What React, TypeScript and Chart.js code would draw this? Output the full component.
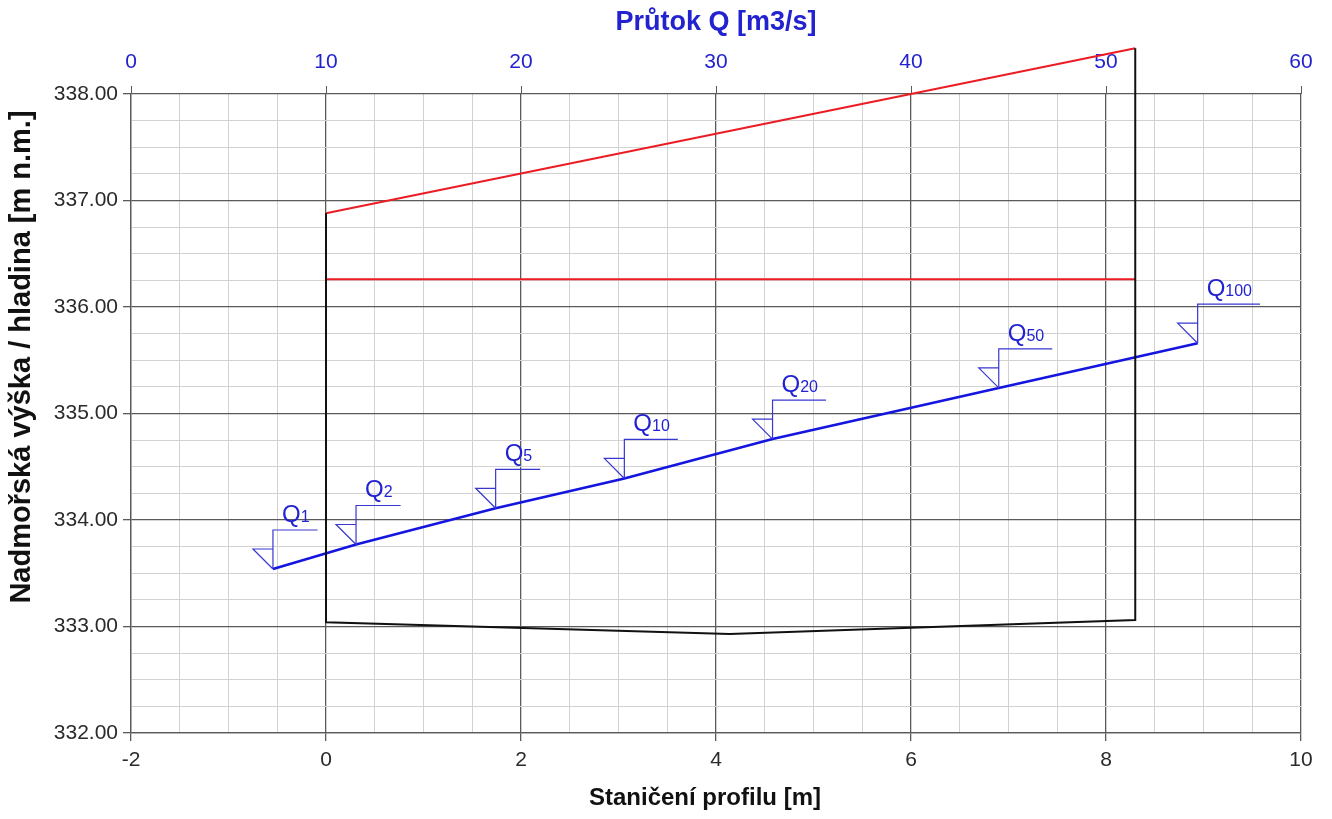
import React, { useEffect, useRef } from 'react';
import { Chart, registerables } from 'chart.js';

Chart.register(...registerables);

// ---- data ----
const qNames = ['1', '2', '5', '10', '20', '50', '100'];
const qFlows = [7.28, 11.54, 18.7, 25.3, 32.9, 44.5, 54.7];
const qLevels = [333.54, 333.77, 334.11, 334.39, 334.76, 335.24, 335.66];

const profileX = [0, 0, 4.14, 8.3, 8.3];
const profileY = [336.88, 333.04, 332.93, 333.06, 338.43];

const bankLineX = [0, 8.3];
const bankLineY = [336.88, 338.43];

const levelLineX = [0, 8.3];
const levelLineY = [336.26, 336.26];

const stationRange = [-2, 10];
const levelRange = [332, 338];
const flowRange = [0, 60];

const titleY = 'Nadmořská výška / hladina [m n.m.]';
const titleX = 'Staničení profilu [m]';
const titleTop = 'Průtok Q [m3/s]';

// ---- styles ----
const FONT = '"Liberation Sans", Arial, Helvetica, sans-serif';
const MAJOR = '#5a5a5a';
const MINOR = '#d2d2d2';
const BLUE = '#1515e0';
const MARK = '#3838d0';
const LABEL_BLUE = '#2222d0';
const RED = '#ec1c24';
const BLACK = '#111111';
const TICK_TXT = '#2a2a2a';

const near = (a: number, b: number) => Math.abs(a - b) < 1e-6;
const isMajorX = (v: number) => near(v / 2, Math.round(v / 2));
const isMajorY = (v: number) => near(v, Math.round(v));

const pts = (xs: number[], ys: number[]) => xs.map((x, i) => ({ x, y: ys[i] }));

const overlayPlugin = {
  id: 'overlay',
  afterDatasetsDraw(chart: any) {
    const ctx = chart.ctx as CanvasRenderingContext2D;
    const x2 = chart.scales.x2;
    const y = chart.scales.y;
    ctx.save();
    qFlows.forEach((q, i) => {
      const px = x2.getPixelForValue(q);
      const py = y.getPixelForValue(qLevels[i]);
      ctx.font = `24px ${FONT}`;
      const wQ = ctx.measureText('Q').width;
      ctx.font = `16px ${FONT}`;
      const wS = ctx.measureText(qNames[i]).width;
      const len = 9 + wQ + wS + 8;
      ctx.strokeStyle = MARK;
      ctx.lineWidth = 1.2;
      ctx.beginPath();
      ctx.moveTo(px, py);
      ctx.lineTo(px, py - 39);
      ctx.lineTo(px + len, py - 39);
      ctx.moveTo(px, py - 20);
      ctx.lineTo(px - 20, py - 20);
      ctx.lineTo(px, py);
      ctx.stroke();
      ctx.fillStyle = LABEL_BLUE;
      ctx.textAlign = 'left';
      ctx.textBaseline = 'alphabetic';
      ctx.font = `24px ${FONT}`;
      ctx.fillText('Q', px + 9, py - 47);
      ctx.font = `16px ${FONT}`;
      ctx.fillText(qNames[i], px + 9 + wQ, py - 47);
    });
    ctx.restore();
  },
  afterDraw(chart: any) {
    const ctx = chart.ctx as CanvasRenderingContext2D;
    const area = chart.chartArea;
    ctx.save();
    ctx.textAlign = 'center';
    ctx.textBaseline = 'middle';
    // top title
    ctx.fillStyle = LABEL_BLUE;
    ctx.font = `bold 27px ${FONT}`;
    ctx.fillText(titleTop, (area.left + area.right) / 2, 23);
    // bottom title
    ctx.fillStyle = BLACK;
    ctx.font = `bold 24px ${FONT}`;
    ctx.fillText(titleX, 705, 798);
    // left title
    ctx.font = `bold 29px ${FONT}`;
    ctx.translate(22, 357);
    ctx.rotate(-Math.PI / 2);
    ctx.fillText(titleY, 0, 0);
    ctx.restore();
  },
};

export default function App() {
  const ref = useRef<HTMLCanvasElement | null>(null);

  useEffect(() => {
    if (!ref.current) return;
    const chart = new Chart(ref.current, {
      type: 'line',
      data: {
        datasets: [
          {
            label: 'profil',
            data: pts(profileX, profileY),
            borderColor: BLACK,
            borderWidth: 2,
            pointRadius: 0,
            xAxisID: 'x',
            yAxisID: 'y',
            clip: false as any,
          },
          {
            label: 'bank',
            data: pts(bankLineX, bankLineY),
            borderColor: RED,
            borderWidth: 2,
            pointRadius: 0,
            xAxisID: 'x',
            yAxisID: 'y',
            clip: false as any,
          },
          {
            label: 'level',
            data: pts(levelLineX, levelLineY),
            borderColor: RED,
            borderWidth: 2,
            pointRadius: 0,
            xAxisID: 'x',
            yAxisID: 'y',
            clip: false as any,
          },
          {
            label: 'Q-H',
            data: pts(qFlows, qLevels),
            borderColor: BLUE,
            borderWidth: 2.6,
            pointRadius: 0,
            xAxisID: 'x2',
            yAxisID: 'y',
            clip: false as any,
          },
        ],
      },
      options: {
        animation: false,
        responsive: true,
        maintainAspectRatio: false,
        layout: { padding: { left: 0, right: 31, top: 0, bottom: 0 } },
        plugins: {
          legend: { display: false },
          tooltip: { enabled: false },
          title: { display: false },
        },
        elements: { line: { tension: 0 } },
        scales: {
          x: {
            type: 'linear',
            position: 'bottom',
            min: stationRange[0],
            max: stationRange[1],
            afterFit: (s: any) => {
              s.height = 86;
            },
            ticks: {
              stepSize: 0.5,
              autoSkip: false,
              maxRotation: 0,
              padding: 7,
              color: TICK_TXT,
              font: { size: 21, family: FONT },
              callback: (v: any) => (isMajorX(Number(v)) ? String(Math.round(Number(v))) : ''),
            },
            grid: {
              color: (c: any) => (isMajorX(c.tick.value) ? MAJOR : MINOR),
              lineWidth: (c: any) => (isMajorX(c.tick.value) ? 1.3 : 1),
              tickColor: (c: any) => (isMajorX(c.tick.value) ? MAJOR : 'rgba(0,0,0,0)'),
              tickLength: 8,
            },
            border: { color: MAJOR, width: 1.3 },
          },
          x2: {
            type: 'linear',
            position: 'top',
            min: flowRange[0],
            max: flowRange[1],
            afterFit: (s: any) => {
              s.height = 94;
            },
            ticks: {
              stepSize: 10,
              autoSkip: false,
              maxRotation: 0,
              padding: 11,
              color: LABEL_BLUE,
              font: { size: 21, family: FONT },
            },
            grid: {
              drawOnChartArea: false,
              color: MAJOR,
              tickColor: MAJOR,
              tickLength: 8,
            },
            border: { display: false },
          },
          y: {
            type: 'linear',
            position: 'left',
            min: levelRange[0],
            max: levelRange[1],
            afterFit: (s: any) => {
              s.width = 131;
            },
            ticks: {
              stepSize: 0.25,
              autoSkip: false,
              padding: 5,
              color: TICK_TXT,
              font: { size: 21, family: FONT },
              callback: (v: any) => (isMajorY(Number(v)) ? Number(v).toFixed(2) : ''),
            },
            grid: {
              color: (c: any) => (isMajorY(c.tick.value) ? MAJOR : MINOR),
              lineWidth: (c: any) => (isMajorY(c.tick.value) ? 1.3 : 1),
              tickColor: (c: any) => (isMajorY(c.tick.value) ? MAJOR : 'rgba(0,0,0,0)'),
              tickLength: 8,
            },
            border: { color: MAJOR, width: 1.3 },
          },
        },
      } as any,
      plugins: [overlayPlugin],
    });
    return () => chart.destroy();
  }, []);

  return (
    <div style={{ position: 'absolute', left: 0, top: 0, width: 1332, height: 819, background: '#fff' }}>
      <canvas ref={ref} />
    </div>
  );
}
